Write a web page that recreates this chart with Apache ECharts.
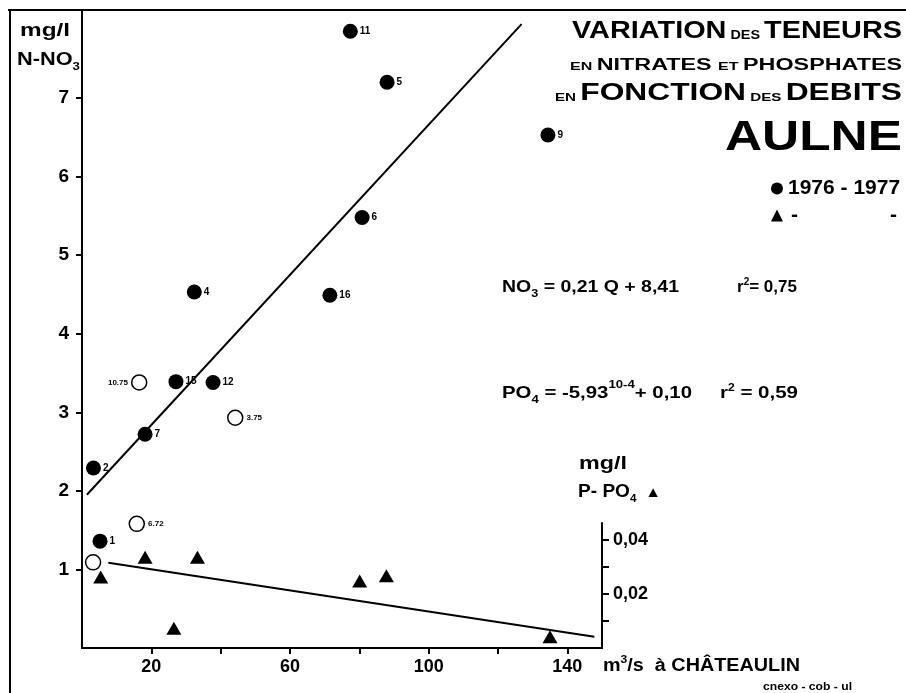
<!DOCTYPE html>
<html>
<head>
<meta charset="utf-8">
<script src="https://cdn.jsdelivr.net/npm/echarts@6/dist/echarts.min.js"></script>
<style>
html, body { margin: 0; padding: 0; background: #fff; }
#main { width: 906px; height: 693px; }
</style>
</head>
<body>
<div id="main"></div>
<script>
// debits Q (m3/s a Chateaulin) et N-NO3 (mg/l), 1976-1977
var nitrateQ    = [77.4, 88.0, 134.4, 80.8, 71.5, 32.4, 27.1, 37.8, 18.2, 3.3, 5.2];
var nitrateVal  = [7.85, 7.20, 6.53, 5.48, 4.49, 4.53, 3.39, 3.38, 2.72, 2.29, 1.36];
var nitrateTags = ['11', '5', '9', '6', '16', '4', '15', '12', '7', '2', '1'];

// cercles vides
var openQ    = [16.5, 44.2, 15.8, 3.2];
var openVal  = [3.38, 2.93, 1.58, 1.09];
var openTags = ['10.75', '3.75', '6.72', ''];

// P-PO4 (mg/l)
var phosQ   = [5.4, 18.2, 33.3, 26.5, 80.1, 87.8, 135.0];
var phosVal = [0.0263, 0.0336, 0.0336, 0.0073, 0.0248, 0.0268, 0.0042];

// droites de regression (extremites)
var nitrateFitQ   = [1.4, 126.8];
var nitrateFitVal = [1.95, 7.94];
var phosFitQ      = [7.6, 147.8];
var phosFitVal    = [0.0316, 0.0042];

var no3Ticks  = [1, 2, 3, 4, 5, 6, 7];
var qTicks    = [20, 40, 60, 80, 100, 120, 140];
var qLabels   = [20, 60, 100, 140];
var po4Ticks  = [0.01, 0.02, 0.03, 0.04];
var po4Labels = [0.02, 0.04];

var FAMILY = '"Liberation Sans", Arial, Helvetica, sans-serif';
var ctx = document.createElement('canvas').getContext('2d');

function fontOf(size) {
  return 'bold ' + size + 'px ' + FAMILY;
}

// pieces of text set one after the other on a baseline: [text, size, dy]
function textRun(x, baseline, parts, align, targetWidth) {
  var total = 0;
  parts.forEach(function (p) {
    ctx.font = fontOf(p[1]);
    p.w = ctx.measureText(p[0]).width;
    total += p.w;
  });
  var s = targetWidth ? targetWidth / total : 1;
  var cx = align === 'right' ? x - total * s : x;
  return parts.map(function (p) {
    var el = {
      type: 'text',
      x: cx,
      y: baseline + (p[2] || 0) - 0.35 * p[1],
      scaleX: s,
      style: {
        text: p[0],
        font: fontOf(p[1]),
        fill: '#000',
        align: 'left',
        verticalAlign: 'middle'
      }
    };
    cx += p.w * s;
    return el;
  });
}

function main() {
  var myChart = echarts.init(document.getElementById('main'));

  var graphics = [
    { type: 'line', shape: { x1: 8, y1: 10, x2: 906, y2: 10 }, style: { stroke: '#000', lineWidth: 2 } },
    { type: 'line', shape: { x1: 10, y1: 10, x2: 10, y2: 693 }, style: { stroke: '#000', lineWidth: 2 } }
  ];
  graphics = graphics.concat(
    textRun(20, 37, [['mg/l', 18]], 'left', 50),
    textRun(17, 66, [['N-NO', 18], ['3', 11, 5]], 'left', 63),
    textRun(902, 40, [['VARIATION', 24], [' DES ', 12], ['TENEURS', 24]], 'right', 330),
    textRun(902, 71, [['EN ', 11], ['NITRATES ', 16], ['ET ', 11], ['PHOSPHATES', 16]], 'right', 332),
    textRun(902, 102, [['EN ', 11], ['FONCTION', 23], [' DES ', 11], ['DEBITS', 23]], 'right', 347),
    textRun(902, 153, [['AULNE', 42]], 'right', 177),
    textRun(502, 293, [['NO', 17], ['3', 11, 5], [' = 0,21 Q + 8,41', 17]], 'left', 177),
    textRun(737, 293, [['r', 17], ['2', 10, -7], ['= 0,75', 17]], 'left', 60),
    textRun(502, 399, [['PO', 17], ['4', 11, 5], [' = -5,93', 17], ['10-4', 11, -10], ['+ 0,10', 17]], 'left', 190),
    textRun(720, 399, [['r', 17], ['2', 10, -7], [' = 0,59', 17]], 'left', 78),
    textRun(579, 470, [['mg/l', 18]], 'left', 48),
    textRun(578, 498, [['P- PO', 18], ['4', 11, 5], ['  \u25B2', 15]], 'left', 83),
    textRun(603, 672, [['m', 18], ['3', 11, -8], ['/s', 18], ['  \u00E0 CH\u00C2TEAULIN', 18]], 'left', 197),
    textRun(763, 691, [['cnexo - cob - ul', 10]], 'left', 89)
  );

  var axisLine = { show: true, onZero: false, lineStyle: { color: '#000', width: 2 } };
  var labelStyle = { color: '#000', fontWeight: 'bold', fontFamily: FAMILY };

  var option = {
    animation: false,
    backgroundColor: '#fff',
    grid: [
      { left: 82, top: 10, width: 520, height: 638 },
      { left: 82, top: 523, width: 520, height: 125 }
    ],
    legend: {
      orient: 'vertical',
      left: 766,
      top: 173,
      itemWidth: 12,
      itemHeight: 12,
      itemGap: 6,
      selectedMode: false,
      data: ['1976 -1977', '-'],
      formatter: function (name) {
        return name === '-' ? '{d|-}{gap|}{d|-}' : '{y|1976 - 1977}';
      },
      textStyle: {
        color: '#000', fontSize: 18, fontWeight: 'bold', fontFamily: FAMILY,
        rich: {
          y: { fontSize: 21, fontWeight: 'bold', fontFamily: FAMILY, color: '#000' },
          d: { fontSize: 21, fontWeight: 'bold', fontFamily: FAMILY, color: '#000', padding: [0, 0, 0, 3] },
          gap: { width: 89 }
        }
      }
    },
    xAxis: [
      {
        gridIndex: 0, type: 'value', min: 0, max: 150,
        axisLine: axisLine,
        axisTick: { show: true, customValues: qTicks, length: 6, lineStyle: { color: '#000', width: 2 } },
        axisLabel: Object.assign({ customValues: qLabels, fontSize: 18, margin: 10 }, labelStyle),
        splitLine: { show: false }
      },
      { gridIndex: 1, type: 'value', min: 0, max: 150, show: false }
    ],
    yAxis: [
      {
        gridIndex: 0, type: 'value', min: 0, max: 8.12,
        axisLine: axisLine,
        axisTick: { show: true, customValues: no3Ticks, length: 6, lineStyle: { color: '#000', width: 2 } },
        axisLabel: Object.assign({ customValues: no3Ticks, fontSize: 19, margin: 13 }, labelStyle),
        splitLine: { show: false }
      },
      {
        gridIndex: 1, type: 'value', position: 'right', min: 0, max: 0.0463,
        axisLine: axisLine,
        axisTick: { show: true, customValues: po4Ticks, length: 7, lineStyle: { color: '#000', width: 2 } },
        axisLabel: Object.assign({
          customValues: po4Labels, fontSize: 18, margin: 11,
          formatter: function (v) { return v.toFixed(2).replace('.', ','); }
        }, labelStyle),
        splitLine: { show: false }
      }
    ],
    series: [
      {
        name: 'fit NO3', type: 'line', xAxisIndex: 0, yAxisIndex: 0,
        data: nitrateFitQ.map(function (q, i) { return [q, nitrateFitVal[i]]; }),
        symbol: 'none', lineStyle: { color: '#000', width: 2 }
      },
      {
        name: 'fit PO4', type: 'line', xAxisIndex: 1, yAxisIndex: 1,
        data: phosFitQ.map(function (q, i) { return [q, phosFitVal[i]]; }),
        symbol: 'none', lineStyle: { color: '#000', width: 2 }
      },
      {
        name: '1976 -1977', type: 'scatter', xAxisIndex: 0, yAxisIndex: 0,
        symbol: 'circle', symbolSize: 15,
        itemStyle: { color: '#000', opacity: 1 },
        data: nitrateQ.map(function (q, i) { return [q, nitrateVal[i], nitrateTags[i]]; }),
        label: {
          show: true, position: 'right', distance: 2,
          formatter: function (p) { return p.value[2]; },
          color: '#000', fontSize: 10, fontWeight: 'bold', fontFamily: FAMILY
        }
      },
      {
        name: 'open', type: 'scatter', xAxisIndex: 0, yAxisIndex: 0,
        symbol: 'circle', symbolSize: 15,
        itemStyle: { color: '#fff', borderColor: '#000', borderWidth: 1.5, opacity: 1 },
        data: openQ.map(function (q, i) {
          return { value: [q, openVal[i], openTags[i]], label: { position: i === 0 ? 'left' : 'right' } };
        }),
        label: {
          show: true, position: 'right', distance: 3,
          formatter: function (p) { return p.value[2]; },
          color: '#000', fontSize: 8, fontWeight: 'bold', fontFamily: FAMILY
        }
      },
      {
        name: '-', type: 'scatter', xAxisIndex: 1, yAxisIndex: 1,
        symbol: 'triangle', symbolSize: [15, 13],
        itemStyle: { color: '#000', opacity: 1 },
        data: phosQ.map(function (q, i) { return [q, phosVal[i]]; })
      }
    ],
    graphic: graphics
  };
  myChart.setOption(option);
}

window.onload = main;
</script>
</body>
</html>
